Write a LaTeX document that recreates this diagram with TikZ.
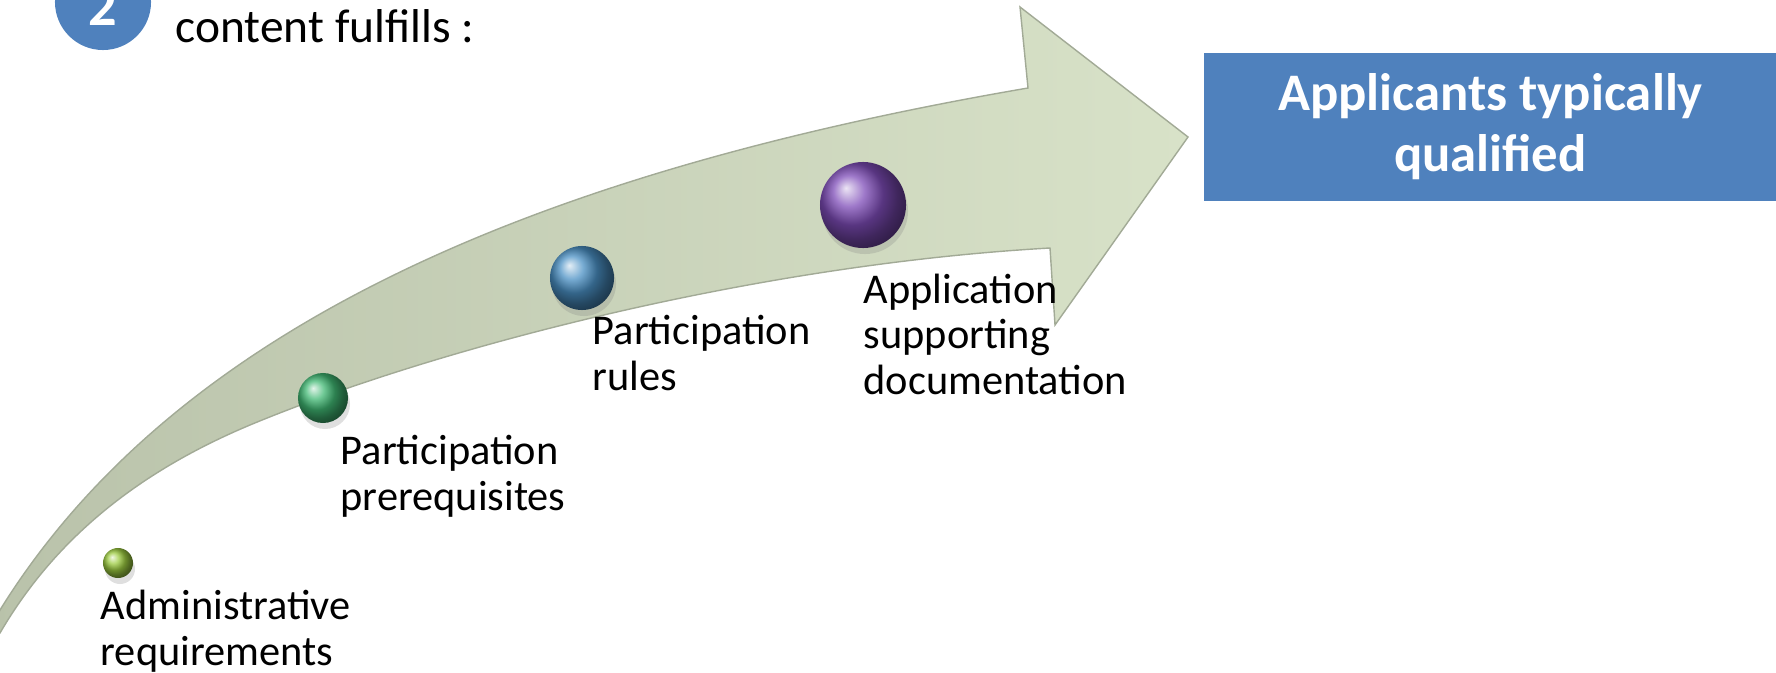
\documentclass[tikz,border=0pt]{standalone}
\usepackage{fontspec}
\setmainfont{Carlito}
\usetikzlibrary{shadows}
\definecolor{boxblue}{HTML}{4F81BD}
\definecolor{arrowlight}{HTML}{D8E2C8}
\definecolor{arrowdark}{HTML}{B9C2AA}
\definecolor{arrowline}{HTML}{A2AA96}
\definecolor{ballyellow}{HTML}{9CCB40}
\definecolor{ballgreen}{HTML}{40B873}
\definecolor{ballblue}{HTML}{4A90C4}
\definecolor{ballpurple}{HTML}{7E4CB8}
\tikzset{
  ball/.style={circle,inner sep=0pt,shading=ball,
    drop shadow={opacity=0.25,shadow xshift=0.2mm,shadow yshift=-0.6mm}},
  steplabel/.style={anchor=base west,inner sep=0pt,align=left,
    font=\fontsize{12.05}{12.8}\selectfont},
}
\begin{document}
\begin{tikzpicture}[x=0.01cm,y=-0.01cm]
		\useasboundingbox (0,0) rectangle (1776,673);
		\begin{scope}
		\clip (0,0) rectangle (1776,673);
		% Curved arrow
		\draw[arrowline,line width=0.4pt,left color=arrowdark,right color=arrowlight]
			(-15,640) -- (0,610) .. controls (180,320) and (550,170) .. (1028,88)
			-- (1020,7) -- (1188,137) -- (1055,325) -- (1050,248)
			.. controls (750,265) and (430,350) .. (250,425)
			.. controls (150,467) and (60,530) .. (0,633) -- cycle;
		% Step number
		\node[circle,fill=boxblue,inner sep=0pt,minimum size=0.96cm] (stepnum) at (103,2) {};
		\node[anchor=base,inner sep=0pt,text=white,font=\fontsize{16}{18}\selectfont\bfseries] (numtext) at (103,26) {2};
		\end{scope}
		\node[anchor=base west,inner sep=0pt,font=\fontsize{13.5}{16}\selectfont] (title) at (175,43) {content fulfills :};
		% Result box
		\node[anchor=north west,fill=boxblue,inner sep=0pt,minimum width=5.73cm,minimum height=1.48cm,
			align=center,text=white,font=\fontsize{15}{17.4}\selectfont\bfseries] (result) at (1203,52)
			{Applicants typically\\qualified};
		% Balls
		\node[ball,ball color=ballyellow,minimum size=0.30cm] (ballA) at (118,563) {};
		\node[ball,ball color=ballgreen,minimum size=0.50cm] (ballB) at (323,398) {};
		\node[ball,ball color=ballblue,minimum size=0.64cm] (ballC) at (582,278) {};
		\node[ball,ball color=ballpurple,minimum size=0.86cm] (ballD) at (863,205) {};
		% Step labels (placed at the baseline of their last line)
		\node[steplabel] (admin) at (100,665) {Administrative\\requirements};
		\node[steplabel] (prereq) at (340,510) {Participation\\prerequisites};
		\node[steplabel] (rules) at (592,390) {Participation\\rules};
		\node[steplabel] (docs) at (863,394) {Application\\supporting\\documentation};
\end{tikzpicture}
\end{document}
